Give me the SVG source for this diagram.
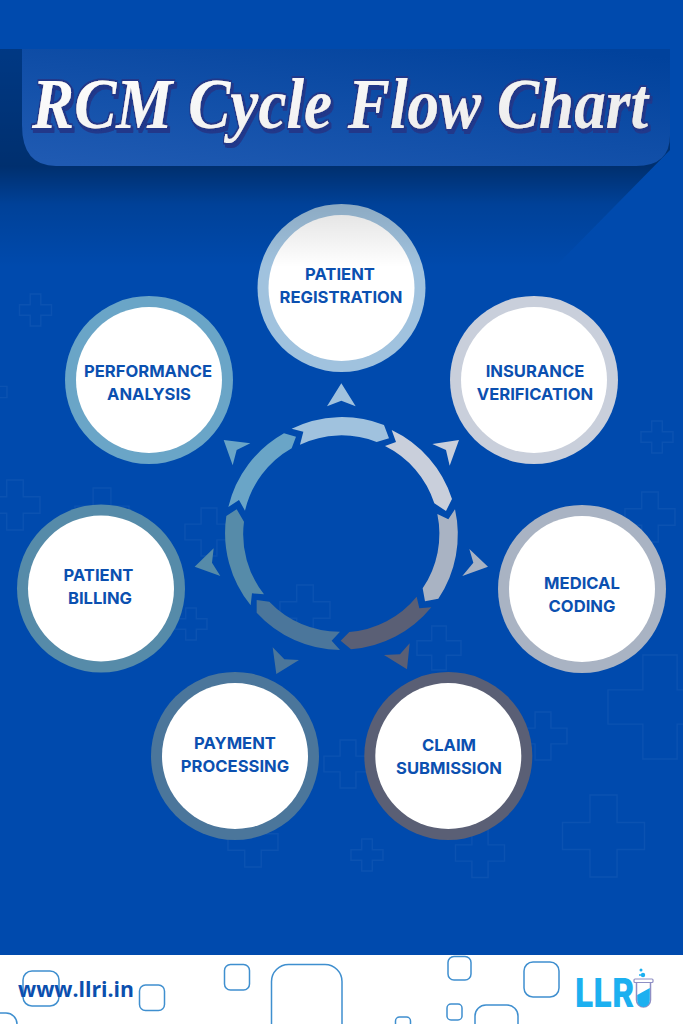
<svg xmlns="http://www.w3.org/2000/svg" width="683" height="1024" viewBox="0 0 683 1024">
<style>
.cross{fill:none;stroke:#1a5cb6;stroke-width:1.4;opacity:.45}
.sq{fill:none;stroke:#3f8fcf;stroke-width:1.5}
.lbl{font-family:Inter,"Liberation Sans",sans-serif;font-weight:700;font-size:16.6px;fill:#0b50b0;text-anchor:middle}
.inner{fill:#fff}
</style>
<defs>
<path id="plus" d="M-.33-1H.33V-.33H1V.33H.33V1H-.33V.33H-1V-.33H-.33Z" vector-effect="non-scaling-stroke"/>
<linearGradient id="hdr" x1="0.1" y1="1" x2="0.9" y2="0"><stop offset="0" stop-color="#1f5ab2"/><stop offset="1" stop-color="#01429c"/></linearGradient>
<linearGradient id="shade" x1="0" y1="0" x2="0" y2="1"><stop offset="0" stop-color="#000" stop-opacity=".24"/><stop offset=".54" stop-color="#000" stop-opacity=".36"/><stop offset=".715" stop-color="#000" stop-opacity=".12"/><stop offset="1" stop-color="#000" stop-opacity="0"/></linearGradient>
<linearGradient id="ttl" x1="0" y1="0" x2="1" y2="1"><stop offset="0" stop-color="#fff"/><stop offset="1" stop-color="#e9e9e9"/></linearGradient>
<filter id="ext" x="-5%" y="-20%" width="110%" height="140%">
<feMorphology in="SourceAlpha" operator="dilate" radius="1.6" result="d"/>
<feOffset in="d" dx="2.5" dy="3" result="o"/>
<feFlood flood-color="#21398a"/><feComposite in2="o" operator="in" result="s1"/>
<feFlood flood-color="#21398a"/><feComposite in2="d" operator="in" result="s2"/>
<feMerge><feMergeNode in="s1"/><feMergeNode in="s2"/><feMergeNode in="SourceGraphic"/></feMerge>
</filter>
</defs>
<rect width="683" height="1024" fill="#004aad"/>
<g id="background-crosses">
<use href="#plus" class="cross" transform="translate(35.5 310) scale(16)"/>
<use href="#plus" class="cross" transform="translate(-10 392) scale(17)"/>
<use href="#plus" class="cross" transform="translate(15 505) scale(25)"/>
<use href="#plus" class="cross" transform="translate(102 515) scale(27)"/>
<use href="#plus" class="cross" transform="translate(209 532) scale(24)"/>
<use href="#plus" class="cross" transform="translate(191 624) scale(16)"/>
<use href="#plus" class="cross" transform="translate(305 610) scale(25)"/>
<use href="#plus" class="cross" transform="translate(439 648) scale(22)"/>
<use href="#plus" class="cross" transform="translate(543 736) scale(24)"/>
<use href="#plus" class="cross" transform="translate(348 764) scale(24)"/>
<use href="#plus" class="cross" transform="translate(660 707) scale(52)"/>
<use href="#plus" class="cross" transform="translate(603.5 836) scale(41)"/>
<use href="#plus" class="cross" transform="translate(367 855) scale(16)"/>
<use href="#plus" class="cross" transform="translate(480 853) scale(24.5)"/>
<use href="#plus" class="cross" transform="translate(253 842) scale(25)"/>
<use href="#plus" class="cross" transform="translate(657 437) scale(16)"/>
<use href="#plus" class="cross" transform="translate(650 517) scale(25)"/>
</g>
<g id="connectors" transform="translate(190 370) scale(.33333)">
<g id="ring">
<path fill="#a0c2de" d="M305 176A345 345 0 0 1 582 165L597 205 560 216A291 291 0 0 0 330 224L340 185Z"/>
<path fill="#c9cfdb" d="M605 180A345 345 0 0 1 786 387L768 423 733 400A291 291 0 0 0 585 228L618 216Z"/>
<path fill="#a9b3c3" d="M795 418A345 345 0 0 1 745 686L705 694 698 655A291 291 0 0 0 742 432L775 448Z"/>
<path fill="#5a5f75" d="M724 712A345 345 0 0 1 483 838L452 812 478 786A291 291 0 0 0 680 680L688 715Z"/>
<path fill="#4b769b" d="M450 840A345 345 0 0 1 200 728L200 690 238 695A291 291 0 0 0 450 785L425 812Z"/>
<path fill="#568ba9" d="M182 706A345 345 0 0 1 109 438L140 418 162 455A291 291 0 0 0 222 673L186 670Z"/>
<path fill="#6aa5c7" d="M115 411A345 345 0 0 1 282 190L318 200 305 235A291 291 0 0 0 165 422L147 390Z"/>
</g>
<g id="arrowheads">
<path fill="#a0c2de" d="M454 40L497 109 454 92 411 109Z"/>
<path fill="#c9cfdb" d="M807 210L779 287 768 240 727 222Z"/>
<path fill="#a9b3c3" d="M894 590L817 618 850 578 838 537Z"/>
<path fill="#5a5f75" d="M651 898L582 855 630 853 659 820Z"/>
<path fill="#4b769b" d="M259 912L248 832 283 868 327 870Z"/>
<path fill="#568ba9" d="M14 590L71 535 66 578 91 618Z"/>
<path fill="#6aa5c7" d="M101 210L181 220 140 240 128 286Z"/>
</g>
</g>
<g id="node-insurance"><circle cx="534" cy="380" r="84" fill="#c9cfdb"/><circle class="inner" cx="534" cy="380" r="73"/><text class="lbl" x="535" y="377">INSURANCE</text><text class="lbl" x="535" y="400">VERIFICATION</text></g>
<g id="node-coding"><circle cx="582" cy="589" r="84" fill="#a9b3c3"/><circle class="inner" cx="582" cy="589" r="73"/><text class="lbl" x="582" y="589">MEDICAL</text><text class="lbl" x="582" y="612">CODING</text></g>
<g id="node-claim"><circle cx="448.3" cy="756" r="84" fill="#5a5f75"/><circle class="inner" cx="448.3" cy="756" r="73"/><text class="lbl" x="449" y="751">CLAIM</text><text class="lbl" x="449" y="774">SUBMISSION</text></g>
<g id="node-payment"><circle cx="235" cy="756" r="84" fill="#4b769b"/><circle class="inner" cx="235" cy="756" r="73"/><text class="lbl" x="235" y="749">PAYMENT</text><text class="lbl" x="235" y="772">PROCESSING</text></g>
<g id="node-billing"><circle cx="101" cy="588.5" r="84" fill="#568ba9"/><circle class="inner" cx="101" cy="588.5" r="73"/><text class="lbl" x="98.500" y="581">PATIENT</text><text class="lbl" x="100" y="604">BILLING</text></g>
<g id="node-performance"><circle cx="149" cy="380" r="84" fill="#6aa5c7"/><circle class="inner" cx="149" cy="380" r="73"/><text class="lbl" x="148" y="377">PERFORMANCE</text><text class="lbl" x="149" y="400">ANALYSIS</text></g>
<g id="node-registration"><circle cx="341.500" cy="288" r="84" fill="#a0c2de"/><circle class="inner" cx="341.500" cy="288" r="73"/></g>
<path id="header-shadow" fill="url(#shade)" d="M0 49H670V150L555 267H0Z"/>
<g id="node-registration-label"><text class="lbl" x="340" y="280">PATIENT</text><text class="lbl" x="341" y="303">REGISTRATION</text></g>
<g id="header">
<path fill="url(#hdr)" d="M22 49H670V135Q670 166 636 166H56Q22 166 22 125Z"/>
<text transform="translate(32 128) scale(.8775 1)" font-family="'Liberation Serif',serif" font-style="italic" font-weight="700" font-size="72" fill="url(#ttl)" filter="url(#ext)">RCM Cycle Flow Chart</text>
</g>
<g id="footer">
<rect y="955" width="683" height="69" fill="#fff"/>
<rect class="sq" x="23" y="971" width="36" height="35" rx="9"/>
<rect class="sq" x="139.500" y="985" width="25" height="25.500" rx="6" stroke-width="2"/>
<rect class="sq" x="224.500" y="964.500" width="25" height="25.500" rx="6" stroke-width="2"/>
<rect class="sq" x="271.500" y="964.500" width="70.500" height="80" rx="17" stroke-width="2"/>
<rect class="sq" x="448" y="956.500" width="23" height="23.500" rx="6"/>
<rect class="sq" x="524" y="962" width="35" height="35" rx="9"/>
<rect class="sq" x="447" y="1004" width="15" height="16" rx="4"/>
<rect class="sq" x="475" y="1005" width="43" height="40" rx="11"/>
<rect class="sq" x="395.500" y="1017" width="15" height="20" rx="4"/>
<rect class="sq" x="-30" y="1013" width="47" height="40" rx="11"/>
<text x="18" y="997" font-family="'Open Sans','Liberation Sans',sans-serif" font-weight="700" font-size="22" fill="#0b4fae" textLength="116" lengthAdjust="spacingAndGlyphs">www.llri.in</text>
<g id="logo">
<text x="575" y="1007" font-family="Inter,'Liberation Sans',sans-serif" font-weight="800" font-size="40" fill="#1cb0f0" textLength="59" lengthAdjust="spacingAndGlyphs">LLR</text>
<path d="M636.500 982V1000A7 7 0 0 0 650.500 1000V982Z" fill="#fff" stroke="#8f8fc4" stroke-width="1.500"/>
<path d="M637.200 995L649.800 988V1000A6.300 7 0 0 1 637.200 1000Z" fill="#1cb0f0"/>
<rect x="634" y="979" width="19" height="3.500" rx="1" fill="#fff" stroke="#8f8fc4" stroke-width="1.200"/>
<circle cx="641" cy="970" r="1.500" fill="#1cb0f0"/><circle cx="643" cy="975" r="2.200" fill="#1cb0f0"/><circle cx="640" cy="975" r="1" fill="#1cb0f0"/>
</g>
</g>
</svg>
